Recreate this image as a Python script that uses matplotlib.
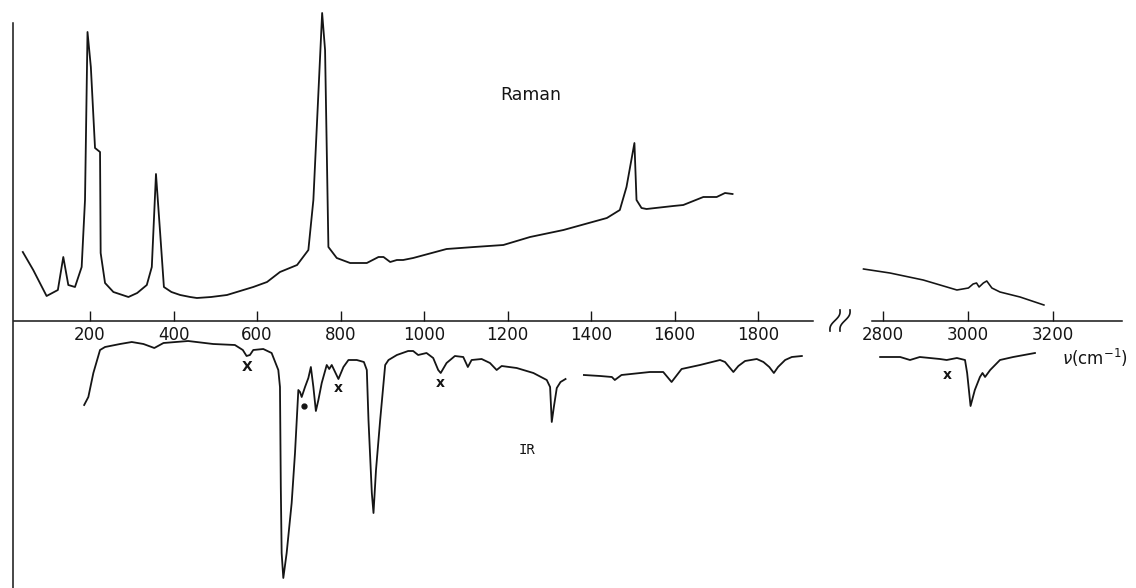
import numpy as np
import matplotlib
matplotlib.use("Agg")
import matplotlib.pyplot as plt
from matplotlib.transforms import IdentityTransform

# ---------------- data (arbitrary intensity units) ----------------
# Raman, low-frequency range
raman_lo_nu = [39, 64, 96, 123, 136, 148, 164, 180, 188, 194, 202, 212, 224, 225.5, 236, 256,
               292, 313, 336, 348, 358, 368, 377, 395, 416, 440, 456, 490, 528, 591, 624, 655,
               696, 723, 735, 756, 763, 771, 791, 823, 863, 891, 903, 919, 935, 950, 974, 1054,
               1120, 1190, 1254, 1334, 1438, 1469, 1485, 1504, 1509, 1521, 1533, 1597, 1621,
               1669, 1701, 1721, 1739]
raman_lo_I = [69, 51, 25, 31, 64, 36, 34, 54, 121, 289, 254, 173, 169, 68, 38, 29,
              24, 28, 36, 54, 147, 88, 34, 29, 26, 24, 23, 24, 26, 34, 39, 49,
              56, 71, 121, 308, 271, 74, 63, 58, 58, 64, 64, 59, 61, 61, 63, 72,
              74, 76, 84, 91, 103, 111, 134, 178, 121, 113, 112, 115, 116,
              124, 124, 128, 127]

# Raman, C-H stretching range
raman_hi_nu = [2755, 2817, 2895, 2974, 3001, 3012, 3020, 3026, 3036, 3044, 3056, 3075, 3122, 3178]
raman_hi_I = [52, 48, 41, 31, 33, 37, 38, 34, 38, 40, 33, 29, 24, 16]

# IR (transmission drawn downward), segment 1
ir1_nu = [186, 196, 208, 224, 236, 272, 300, 328, 354, 376, 435, 495, 547, 566, 575, 583, 591,
          615, 635, 651, 655, 657, 659, 663, 671, 683, 691, 699, 703, 707, 715, 723, 729, 735,
          741, 747, 755, 767, 773, 779, 787, 795, 807, 819, 839, 856, 863, 867, 875, 879, 885,
          895, 907, 915, 935, 962, 974, 986, 1006, 1022, 1034, 1040, 1054, 1074, 1094, 1105,
          1114, 1138, 1158, 1174, 1186, 1222, 1262, 1294, 1302, 1306, 1311, 1318, 1327, 1339]
ir1_T = [-84, -76, -52, -29, -26, -23, -21, -23, -27, -22, -20, -23, -24, -29, -35, -34, -29,
         -28, -32, -49, -66, -166, -232, -257, -232, -182, -132, -69, -71, -76, -66, -57, -46, -66,
         -90, -79, -62, -44, -48, -44, -51, -58, -46, -39, -39, -41, -49, -99, -172, -192, -149,
         -99, -44, -39, -34, -30, -30, -34, -32, -37, -49, -52, -42, -35, -36, -46,
         -39, -38, -42, -49, -45, -47, -52, -59, -66, -101, -86, -67, -61, -58]

# IR segment 2
ir2_nu = [1383, 1422, 1450, 1457, 1473, 1541, 1573, 1593, 1617, 1661, 1709, 1721, 1741, 1753,
          1769, 1797, 1813, 1827, 1838, 1848, 1865, 1881, 1905]
ir2_T = [-54, -55, -56, -59, -54, -51, -51, -61, -48, -44, -39, -41, -51, -45,
         -40, -38, -41, -46, -52, -46, -39, -36, -35]

# IR segment 3 (C-H range)
ir3_nu = [2794, 2841, 2864, 2887, 2934, 2950, 2974, 2993, 2998, 3006, 3016, 3028, 3034, 3040,
          3052, 3075, 3106, 3157]
ir3_T = [-36, -36, -39, -36, -38, -39, -37, -39, -52, -85, -69, -56, -52, -56,
         -49, -39, -36, -32]

ticks_lo = [200, 400, 600, 800, 1000, 1200, 1400, 1600, 1800]
ticks_hi = [2800, 3000, 3200]

# annotations: (label, nu, level)
marks_lo = [("X", 577, -46), ("x", 795, -67), ("x", 1038, -62)]
marks_hi = [("x", 2951, -54)]
dot_mark = (713, -85)

# ---------------- figure ----------------
W, H = 1136, 588
fig = plt.figure(figsize=(W / 100, H / 100), dpi=100)
ink = "#151515"
lw = 1.3

split = 860 / W
ax1 = fig.add_axes([0, 0, split, 1])
ax2 = fig.add_axes([split, 0, 1 - split, 1])
for ax in (ax1, ax2):
    ax.patch.set_alpha(0)
    ax.set_ylim(-267, 321)
    for s in ("top", "right", "left"):
        ax.spines[s].set_visible(False)
    ax.spines["bottom"].set_position(("data", 0))
    ax.spines["bottom"].set_linewidth(1.1)
    ax.spines["bottom"].set_color(ink)
    ax.set_yticks([])
    ax.tick_params(axis="x", direction="in", length=7, width=1.0, color=ink,
                   pad=3.5, labelsize=12, labelcolor=ink)

ax1.set_xlim(-15.6, 2044.3)
ax2.set_xlim(2746.8, 3393.9)
ax1.spines["bottom"].set_bounds(17, 1932)
ax2.spines["bottom"].set_bounds(2774, 3360)
ax1.set_xticks(ticks_lo)
ax2.set_xticks(ticks_hi)

# left vertical axis
ax1.spines["left"].set_visible(True)
ax1.spines["left"].set_position(("data", 16))
ax1.spines["left"].set_bounds(-267, 298)
ax1.spines["left"].set_linewidth(1.1)
ax1.spines["left"].set_color(ink)

# spectra
ax1.plot(raman_lo_nu, raman_lo_I, color=ink, lw=lw, solid_joinstyle="round")
ax2.plot(raman_hi_nu, raman_hi_I, color=ink, lw=lw * 0.9, solid_joinstyle="round")
ax1.plot(ir1_nu, ir1_T, color=ink, lw=lw, solid_joinstyle="round")
ax1.plot(ir2_nu, ir2_T, color=ink, lw=lw, solid_joinstyle="round")
ax2.plot(ir3_nu, ir3_T, color=ink, lw=lw, solid_joinstyle="round")

# labels
ax1.text(1256, 226, "Raman", fontsize=12.5, ha="center", va="center", color=ink)
ax1.text(1246, -129, "IR", fontsize=10, family="DejaVu Sans Mono", ha="center",
         va="center", color=ink)
for lab, nu, lev in marks_lo:
    ax1.text(nu, lev, lab, fontsize=10, fontweight="bold", ha="center", va="center", color=ink)
for lab, nu, lev in marks_hi:
    ax2.text(nu, lev, lab, fontsize=10, fontweight="bold", ha="center", va="center", color=ink)
ax1.plot([dot_mark[0]], [dot_mark[1]], "o", ms=3.5, color=ink)
ax2.text(3220, -37, r"$\nu$(cm$^{-1}$)", fontsize=12, ha="left", va="center", color=ink)

# axis-break symbol (two slanted wiggles), drawn in pixel space
t = np.linspace(0, 1, 40)
for x0 in (830.0, 840.0):
    xs = x0 + (1 - t) * 10 + 1.8 * np.sin(2 * np.pi * t)
    ys = H - (310 + 21 * t)
    fig.add_artist(plt.Line2D(xs, ys, color=ink, lw=1.2, transform=IdentityTransform()))

fig.savefig("out.png", dpi=100, facecolor="white")
